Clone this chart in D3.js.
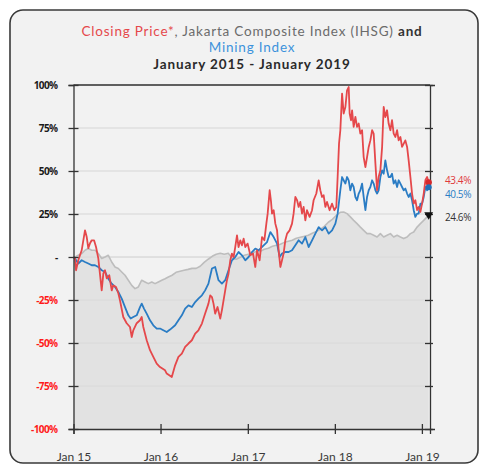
<!DOCTYPE html>
<html><head><meta charset="utf-8">
<script src="https://cdn.jsdelivr.net/npm/d3@7/dist/d3.min.js"></script>
<style>
html,body{margin:0;padding:0;background:#ffffff;}
svg{display:block;}
</style></head>
<body>
<svg id="chart" width="482" height="470"></svg>
<script>
// ---- DATA (dates as fractional years, values in % change since Jan 2015) ----
const priceDates = [2015.000,2015.017,2015.029,2015.055,2015.094,2015.132,2015.152,2015.170,2015.190,2015.209,2015.236,2015.259,2015.285,2015.324,2015.343,2015.362,2015.382,2015.411,2015.439,2015.457,2015.489,2015.515,2015.534,2015.572,2015.611,2015.649,2015.669,2015.687,2015.726,2015.764,2015.784,2015.802,2015.841,2015.879,2015.917,2015.956,2015.994,2016.052,2016.071,2016.129,2016.167,2016.205,2016.244,2016.282,2016.320,2016.359,2016.397,2016.434,2016.474,2016.511,2016.549,2016.569,2016.589,2016.607,2016.626,2016.653,2016.684,2016.703,2016.722,2016.741,2016.761,2016.779,2016.799,2016.818,2016.837,2016.856,2016.876,2016.894,2016.914,2016.933,2016.952,2016.971,2016.998,2017.029,2017.060,2017.086,2017.106,2017.136,2017.163,2017.190,2017.213,2017.228,2017.251,2017.267,2017.278,2017.297,2017.316,2017.336,2017.354,2017.374,2017.393,2017.411,2017.431,2017.451,2017.480,2017.508,2017.526,2017.546,2017.566,2017.584,2017.603,2017.623,2017.641,2017.661,2017.680,2017.710,2017.738,2017.756,2017.787,2017.814,2017.833,2017.853,2017.871,2017.891,2017.910,2017.940,2017.968,2017.994,2018.017,2018.032,2018.048,2018.063,2018.083,2018.101,2018.121,2018.140,2018.159,2018.170,2018.186,2018.198,2018.216,2018.236,2018.255,2018.274,2018.293,2018.313,2018.331,2018.351,2018.370,2018.389,2018.408,2018.428,2018.446,2018.466,2018.485,2018.503,2018.523,2018.543,2018.561,2018.580,2018.600,2018.618,2018.638,2018.657,2018.676,2018.695,2018.715,2018.733,2018.753,2018.772,2018.791,2018.810,2018.830,2018.848,2018.868,2018.887,2018.906,2018.925,2018.945,2018.963,2018.983,2019.002,2019.021,2019.040,2019.060,2019.078];
const priceValues = [0,-0.9,-7.7,-1.9,3.9,15.5,11.6,5.1,8.0,9.7,9.7,5.8,-0.8,-19.4,-9.5,-7.7,-12.4,-10.6,-19.4,-16.5,-17.4,-21.1,-25.2,-34.9,-38.5,-40.7,-46.5,-42.6,-38.5,-36.8,-34.9,-40.7,-48.4,-54.2,-58.1,-62.0,-64.0,-65.9,-67.8,-69.8,-63.0,-58.1,-56.2,-52.3,-50.3,-48.4,-44.5,-42.6,-38.7,-32.9,-27.1,-22.3,-23.3,-27.1,-32.9,-29.1,-35.8,-31.0,-25.2,-19.4,-13.5,-9.7,-1.9,2.0,0,5.8,12.6,5.8,9.7,6.8,10.7,5.8,7.8,1.0,2.0,-5.8,3.9,-1.9,11.6,9.7,19.4,25.2,38.8,32.0,25.2,27.2,19.4,15.5,3.9,-5.8,-1.9,2.0,9.7,13.6,15.5,19.4,25.2,34.9,33.0,29.1,32.0,25.2,29.1,21.3,27.2,23.3,27.2,33.0,36.9,44.6,38.8,34.9,35.9,29.1,32.0,27.2,31.0,27.2,29.1,46.5,65.9,73.7,95.0,83.4,87.2,96.9,98.8,83.4,79.5,85.3,75.6,81.4,75.6,77.6,71.7,73.7,58.1,52.3,58.1,64.0,67.8,73.7,71.7,54.3,38.8,46.5,50.4,64.0,87.2,81.4,85.3,77.6,73.7,79.5,71.7,69.8,73.7,67.8,69.8,64.0,65.9,67.8,64.0,56.2,46.5,36.9,31.0,33.0,27.2,29.1,26.2,31.0,36.9,44.6,46.5,43.4];

const miningDates = [2015.000,2015.017,2015.055,2015.094,2015.132,2015.170,2015.209,2015.247,2015.285,2015.324,2015.362,2015.400,2015.439,2015.477,2015.515,2015.554,2015.592,2015.630,2015.657,2015.687,2015.726,2015.764,2015.784,2015.810,2015.841,2015.879,2015.917,2015.956,2015.994,2016.032,2016.071,2016.109,2016.167,2016.205,2016.244,2016.282,2016.320,2016.359,2016.397,2016.434,2016.474,2016.511,2016.549,2016.589,2016.626,2016.664,2016.703,2016.741,2016.779,2016.818,2016.856,2016.894,2016.933,2016.971,2017.009,2017.048,2017.086,2017.124,2017.144,2017.182,2017.221,2017.259,2017.297,2017.336,2017.366,2017.393,2017.431,2017.469,2017.508,2017.546,2017.584,2017.623,2017.661,2017.699,2017.738,2017.776,2017.814,2017.853,2017.891,2017.929,2017.968,2018.006,2018.032,2018.063,2018.083,2018.101,2018.121,2018.140,2018.159,2018.178,2018.198,2018.216,2018.236,2018.255,2018.274,2018.293,2018.313,2018.331,2018.351,2018.370,2018.389,2018.408,2018.428,2018.446,2018.466,2018.485,2018.503,2018.523,2018.543,2018.561,2018.580,2018.600,2018.618,2018.638,2018.657,2018.676,2018.695,2018.715,2018.733,2018.753,2018.772,2018.791,2018.810,2018.830,2018.848,2018.868,2018.887,2018.906,2018.925,2018.945,2018.963,2018.983,2019.002,2019.021,2019.040,2019.060,2019.078];
const miningValues = [0,-0.9,-3.8,-1.9,-2.9,-3.8,-4.8,-4.8,-5.8,-7.7,-8.7,-12.6,-15.5,-17.4,-20.3,-24.2,-29.1,-33.9,-35.8,-34.9,-33.9,-29.1,-27.1,-30.0,-32.9,-36.8,-39.7,-41.6,-41.6,-42.6,-43.6,-42.2,-39.7,-36.8,-33.9,-30.0,-28.1,-29.1,-26.2,-24.2,-22.3,-19.4,-15.5,-6.7,-5.8,-13.5,-15.5,-13.5,-7.7,-1.9,0,2.9,1.0,-1.9,0,2.9,4.9,3.9,4.9,6.8,8.7,14.5,11.6,7.8,0,2.0,2.9,2.9,3.9,6.8,9.7,7.8,11.6,5.8,9.7,13.6,17.4,15.5,17.4,13.6,15.5,19.4,25.2,38.8,46.5,44.6,42.7,46.5,44.6,38.8,42.7,40.7,34.9,33.0,36.9,38.8,42.7,34.9,27.2,34.9,38.8,40.7,44.6,42.7,38.8,36.9,38.8,46.5,50.4,48.4,56.2,50.4,46.5,46.5,48.4,42.7,44.6,40.7,44.6,42.7,40.7,38.8,39.8,36.9,34.9,36.9,33.0,27.2,23.3,25.2,25.2,31.0,31.0,34.9,40.7,38.8,40.5];

const ihsgDates = [2015.000,2015.017,2015.055,2015.094,2015.132,2015.170,2015.209,2015.247,2015.285,2015.324,2015.362,2015.400,2015.439,2015.477,2015.515,2015.554,2015.592,2015.630,2015.669,2015.707,2015.745,2015.784,2015.822,2015.860,2015.899,2015.937,2015.975,2016.014,2016.052,2016.090,2016.132,2016.178,2016.224,2016.270,2016.316,2016.362,2016.408,2016.454,2016.500,2016.546,2016.592,2016.638,2016.684,2016.730,2016.776,2016.822,2016.868,2016.914,2016.960,2017.006,2017.052,2017.098,2017.144,2017.190,2017.236,2017.282,2017.328,2017.374,2017.420,2017.466,2017.511,2017.557,2017.603,2017.649,2017.695,2017.741,2017.787,2017.833,2017.879,2017.925,2017.971,2018.017,2018.063,2018.101,2018.140,2018.178,2018.216,2018.255,2018.293,2018.331,2018.370,2018.408,2018.446,2018.485,2018.523,2018.561,2018.600,2018.638,2018.676,2018.715,2018.753,2018.791,2018.830,2018.868,2018.906,2018.945,2018.983,2019.021,2019.060,2019.078];
const ihsgValues = [0,0,1.0,2.0,3.9,4.9,3.9,3.9,2.0,-0.9,0,1.0,-2.9,-5.8,-6.7,-8.7,-10.6,-13.5,-16.5,-18.4,-17.4,-13.5,-14.5,-15.5,-14.5,-15.5,-14.5,-13.5,-12.6,-11.6,-10.6,-8.9,-8.3,-7.7,-7.2,-6.6,-6.6,-5.4,-3.1,-1.3,0.4,1.6,2.2,1.6,2.2,-0.8,-1.3,-0.2,1.0,1.6,2.2,3.3,3.3,4.5,5.1,6.2,6.8,7.4,8.5,9.1,9.7,10.9,11.5,12.0,12.6,13.8,14.9,16.1,17.8,20.2,21.9,24.2,26.0,26.2,25.2,23.3,21.3,19.4,17.4,15.5,13.6,13.6,12.6,11.6,13.6,11.6,12.6,13.6,11.6,12.6,11.6,10.7,11.6,13.6,14.5,17.4,19.4,21.3,23.3,24.6];

const yTickValues = [100,75,50,25,0,-25,-50,-75,-100];
const xTickDates = ["2015-01-01","2016-01-01","2017-01-01","2018-01-01","2019-01-01"];
const xTickLabels = ["Jan 15","Jan 16","Jan 17","Jan 18","Jan 19"];
const endLabels = ["43.4%","40.5%","24.6%"];

// ---- helpers ----
function fromYearFraction(t){
  const y = Math.floor(t);
  const s = new Date(y,0,1), e = new Date(y+1,0,1);
  return new Date(+s + (t-y)*(e-s));
}
const toSeries = (ds, vs) => ds.map((d,i)=>({date:fromYearFraction(d), value:vs[i]}));
const price = toSeries(priceDates, priceValues);
const mining = toSeries(miningDates, miningValues);
const ihsg = toSeries(ihsgDates, ihsgValues);

const svg = d3.select("#chart");
const L = 73.5, R = 430, T = 85, B = 429;

// frame
svg.append("rect").attr("x",10).attr("y",10).attr("width",468).attr("height",453)
  .attr("rx",13).attr("fill","#f2f2f2").attr("stroke","#3a3a3a").attr("stroke-width",1.6);

const x = d3.scaleTime().domain([new Date(2015,0,1), new Date(2019,1,4)]).range([L,R]);
const y = d3.scaleLinear().domain([-100,100]).range([B,T]);

// gridlines
svg.append("g").selectAll("line").data(yTickValues).join("line")
  .attr("x1",L).attr("x2",R).attr("y1",d=>y(d)).attr("y2",d=>y(d))
  .attr("stroke","#d6d6d6").attr("stroke-width",1);

// IHSG area
svg.append("path").datum(ihsg)
  .attr("d", d3.area().x(d=>x(d.date)).y0(y(-100)).y1(d=>y(d.value)))
  .attr("fill","#e2e2e2");
svg.append("g").selectAll("line").data(yTickValues.filter(v=>v<25 && v>-100)).join("line")
  .attr("x1",L).attr("x2",R).attr("y1",d=>y(d)).attr("y2",d=>y(d))
  .attr("stroke","#d8d8d8").attr("stroke-width",0.8);

const line = d3.line().x(d=>x(d.date)).y(d=>y(d.value));
svg.append("path").datum(ihsg).attr("d",line).attr("fill","none")
  .attr("stroke","#bdbdbd").attr("stroke-width",1.6).attr("stroke-linejoin","round");
svg.append("path").datum(mining).attr("d",line).attr("fill","none")
  .attr("stroke","#2a7cc4").attr("stroke-width",1.8).attr("stroke-linejoin","round");
svg.append("path").datum(price).attr("d",line).attr("fill","none")
  .attr("stroke","#e5484b").attr("stroke-width",1.8).attr("stroke-linejoin","round");

// top border of plot
svg.append("line").attr("x1",L).attr("x2",R).attr("y1",T).attr("y2",T)
  .attr("stroke","#333").attr("stroke-width",1.3);

// left axis
const yAxis = svg.append("g").attr("transform",`translate(${L},0)`)
  .call(d3.axisLeft(y).tickValues(yTickValues).tickSize(5).tickPadding(11)
    .tickFormat(v => v===0 ? "-" : v+"%"));
yAxis.select(".domain").attr("stroke","#333").attr("stroke-width",1.3);
yAxis.selectAll(".tick line").attr("x1",-5).attr("x2",5).attr("stroke","#333").attr("stroke-width",1.3);
yAxis.selectAll(".tick text")
  .attr("font-family","'Open Sans', sans-serif").attr("font-size",10).attr("font-weight","bold")
  .attr("letter-spacing","-0.6").attr("fill", v => v<0 ? "#ff1a1a" : "#1a1a1a");

// right axis
const yAxisR = svg.append("g").attr("transform",`translate(${R},0)`)
  .call(d3.axisRight(y).tickValues(yTickValues).tickSize(5).tickFormat(""));
yAxisR.select(".domain").attr("stroke","#333").attr("stroke-width",1.3);
yAxisR.selectAll(".tick line").attr("x1",-5).attr("x2",3).attr("stroke","#333").attr("stroke-width",1.3);

// bottom axis
const xTickDateObjs = xTickDates.map(s=>{const p=s.split("-").map(Number);return new Date(p[0],p[1]-1,p[2]);});
const xAxis = svg.append("g").attr("transform",`translate(0,${B})`)
  .call(d3.axisBottom(x).tickValues(xTickDateObjs).tickSize(5).tickPadding(18)
    .tickFormat((d,i)=>xTickLabels[i]));
xAxis.select(".domain").attr("stroke","#333").attr("stroke-width",1.3);
xAxis.selectAll(".tick line").attr("y1",-5).attr("y2",5).attr("stroke","#333").attr("stroke-width",1.3);
xAxis.selectAll(".tick text")
  .attr("font-family","Lato, sans-serif").attr("font-size",12).attr("fill","#3a3a3a");

// end markers
const lastP = price[price.length-1], lastM = mining[mining.length-1], lastI = ihsg[ihsg.length-1];
svg.append("circle").attr("cx",x(lastP.date)).attr("cy",y(lastP.value)).attr("r",3.2).attr("fill","#d6282c");
svg.append("circle").attr("cx",x(lastM.date)).attr("cy",y(lastM.value)).attr("r",3).attr("fill","#1f6fb8");
svg.append("path").attr("d",d3.symbol(d3.symbolTriangle,34)())
  .attr("transform",`translate(${x(lastI.date)},${y(lastI.value)}) rotate(180)`).attr("fill","#111");

const endG = svg.append("g").attr("font-family","'Open Sans', sans-serif").attr("font-size",10)
  .attr("letter-spacing","-0.4");
endG.append("text").attr("x",445).attr("y",y(lastP.value)+1.5).text(endLabels[0]).attr("fill","#e0393c");
endG.append("text").attr("x",445).attr("y",y(lastM.value)+11).text(endLabels[1]).attr("fill","#2a7cc4");
endG.append("text").attr("x",445).attr("y",y(lastI.value)+6).text(endLabels[2]).attr("fill","#333");

// title
const tf = "Lato, sans-serif";
const t1 = svg.append("text").attr("x",252).attr("y",35.5).attr("text-anchor","middle")
  .attr("font-family",tf).attr("font-size",13.5).attr("letter-spacing","0.8");
t1.append("tspan").text("Closing Price*").attr("fill","#e5484b");
t1.append("tspan").text(", Jakarta Composite Index (IHSG) ").attr("fill","#6b6b6b");
t1.append("tspan").text("and").attr("fill","#333").attr("font-weight","bold");
svg.append("text").attr("x",252).attr("y",52).attr("text-anchor","middle")
  .attr("font-family",tf).attr("font-size",13.5).attr("letter-spacing","0.8")
  .attr("fill","#3d92dc").text("Mining Index");
svg.append("text").attr("x",252).attr("y",68.5).attr("text-anchor","middle")
  .attr("font-family",tf).attr("font-size",13.5).attr("letter-spacing","0.9")
  .attr("fill","#2a2a2a").attr("font-weight","bold").text("January 2015 - January 2019");
</script>
</body></html>
